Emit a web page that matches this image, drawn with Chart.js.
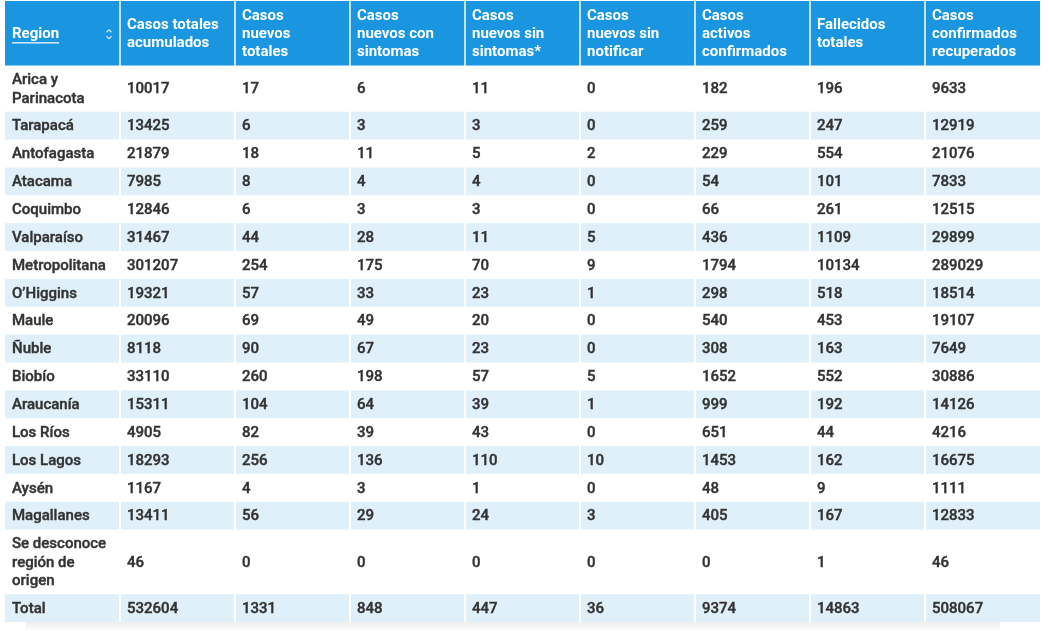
<!DOCTYPE html>
<html>
<head>
<meta charset="utf-8">
<script src="https://cdn.jsdelivr.net/npm/chart.js@4.4.0/dist/chart.umd.min.js"></script>
<style>
  html, body { margin: 0; padding: 0; background: #fff; }
  #wrap { width: 1049px; height: 631px; position: relative; }
</style>
</head>
<body>
<div id="wrap"><canvas id="myChart"></canvas></div>
<script>
// table, one array per column
const headers = ["Region", "Casos totales\nacumulados", "Casos\nnuevos\ntotales", "Casos\nnuevos con\nsintomas", "Casos\nnuevos sin\nsintomas*", "Casos\nnuevos sin\nnotificar", "Casos\nactivos\nconfirmados", "Fallecidos\ntotales", "Casos\nconfirmados\nrecuperados"]
const regions = ["Arica y\nParinacota", "Tarapacá", "Antofagasta", "Atacama", "Coquimbo", "Valparaíso", "Metropolitana", "O’Higgins", "Maule", "Ñuble", "Biobío", "Araucanía", "Los Ríos", "Los Lagos", "Aysén", "Magallanes", "Se desconoce\nregión de\norigen", "Total"]
const casosTotales = [10017, 13425, 21879, 7985, 12846, 31467, 301207, 19321, 20096, 8118, 33110, 15311, 4905, 18293, 1167, 13411, 46, 532604]
const casosNuevos = [17, 6, 18, 8, 6, 44, 254, 57, 69, 90, 260, 104, 82, 256, 4, 56, 0, 1331]
const conSintomas = [6, 3, 11, 4, 3, 28, 175, 33, 49, 67, 198, 64, 39, 136, 3, 29, 0, 848]
const sinSintomas = [11, 3, 5, 4, 3, 11, 70, 23, 20, 23, 57, 39, 43, 110, 1, 24, 0, 447]
const sinNotificar = [0, 0, 2, 0, 0, 5, 9, 1, 0, 0, 5, 1, 0, 10, 0, 3, 0, 36]
const activos = [182, 259, 229, 54, 66, 436, 1794, 298, 540, 308, 1652, 999, 651, 1453, 48, 405, 0, 9374]
const fallecidos = [196, 247, 554, 101, 261, 1109, 10134, 518, 453, 163, 552, 192, 44, 162, 9, 167, 1, 14863]
const recuperados = [9633, 12919, 21076, 7833, 12515, 29899, 289029, 18514, 19107, 7649, 30886, 14126, 4216, 16675, 1111, 12833, 46, 508067]

const columns = [regions, casosTotales, casosNuevos, conSintomas, sinSintomas, sinNotificar, activos, fallecidos, recuperados]

const HEADER_BG = '#1996df'
const STRIPE_BG = '#e0f0fb'
const TEXT = '#333333'
const PAD = 0.52 // vertical cell padding, in text-line units

// row boundaries in line units (y scale), header first
const lineCount = s => String(s).split('\n').length
const headerLines = Math.max(...headers.map(lineCount))
const rowTops = []
let acc = headerLines + PAD
regions.forEach(r => {
    rowTops.push(acc)
    acc += lineCount(r) + PAD
})
const tableBottom = acc
const rowCenter = i => rowTops[i] + (lineCount(regions[i]) + PAD) / 2

const datasets = columns.map((col, c) => ({
    label: headers[c],
    data: col.map((v, i) => ({ x: c, y: rowCenter(i), text: String(v) })),
    pointRadius: 0,
    showLine: false
}))

function drawLines(ctx, text, x, yc, lineH, thicken) {
    const lines = text.split('\n')
    lines.forEach((ln, k) => {
        const yy = yc + (k - (lines.length - 1) / 2) * lineH
        ctx.fillText(ln, x, yy)
        if (thicken) ctx.strokeText(ln, x, yy)
    })
}

const tablePlugin = {
    id: 'table',
    beforeDatasetsDraw(chart) {
        const { ctx, scales: { x, y } } = chart
        const left = x.getPixelForValue(0), right = x.getPixelForValue(columns.length)
        ctx.save()
        // soft shadow under the table
        const yb = y.getPixelForValue(tableBottom)
        const g = ctx.createLinearGradient(0, yb, 0, yb + 9)
        g.addColorStop(0, 'rgba(0,0,0,0.07)')
        g.addColorStop(1, 'rgba(0,0,0,0)')
        ctx.fillStyle = g
        ctx.fillRect(left + 20, yb, right - left - 60, 9)
        // header
        ctx.fillStyle = HEADER_BG
        ctx.fillRect(left, y.getPixelForValue(0), right - left, y.getPixelForValue(headerLines + PAD) - y.getPixelForValue(0))
        // stripes
        ctx.fillStyle = STRIPE_BG
        regions.forEach((r, i) => {
            if (i % 2 === 1) {
                const t = y.getPixelForValue(rowTops[i])
                const b = y.getPixelForValue(rowTops[i] + lineCount(r) + PAD)
                ctx.fillRect(left, t, right - left, b - t)
            }
        })
        // white column separators
        ctx.lineWidth = 2
        for (let c = 1; c < columns.length; c++) {
            const px = Math.round(x.getPixelForValue(c))
            ctx.strokeStyle = 'rgba(225,240,252,0.85)'
            ctx.beginPath()
            ctx.moveTo(px, y.getPixelForValue(0))
            ctx.lineTo(px, y.getPixelForValue(headerLines + PAD))
            ctx.stroke()
            ctx.strokeStyle = '#ffffff'
            ctx.beginPath()
            ctx.moveTo(px, y.getPixelForValue(headerLines + PAD))
            ctx.lineTo(px, yb)
            ctx.stroke()
        }
        ctx.restore()
    },
    afterDatasetsDraw(chart) {
        const { ctx, scales: { x, y } } = chart
        const lineH = y.getPixelForValue(1) - y.getPixelForValue(0)
        const hc = y.getPixelForValue((headerLines + PAD) / 2) + 1
        ctx.save()
        ctx.textBaseline = 'middle'
        ctx.textAlign = 'left'
        // header labels
        ctx.fillStyle = '#ffffff'
        ctx.font = 'bold 15px Roboto'
        headers.forEach((h, c) => {
            const px = x.getPixelForValue(c) + 7
            drawLines(ctx, h, px, hc, lineH, false)
            if (c === 0) {
                const w = ctx.measureText(h).width
                ctx.fillRect(px, hc + 8, w, 1.2)
                // sort arrows
                const ax = x.getPixelForValue(1) - 11
                ctx.strokeStyle = '#cde6f8'
                ctx.lineWidth = 1.2
                ctx.beginPath()
                ctx.moveTo(ax - 2.5, hc - 2); ctx.lineTo(ax, hc - 4.5); ctx.lineTo(ax + 2.5, hc - 2)
                ctx.moveTo(ax - 2.5, hc + 2); ctx.lineTo(ax, hc + 4.5); ctx.lineTo(ax + 2.5, hc + 2)
                ctx.stroke()
            }
        })
        // body cells, placed at each point element
        ctx.fillStyle = TEXT
        ctx.strokeStyle = TEXT
        ctx.lineWidth = 0.4
        ctx.font = '500 15px Roboto'
        chart.data.datasets.forEach((ds, d) => {
            chart.getDatasetMeta(d).data.forEach((el, i) => {
                drawLines(ctx, ds.data[i].text, el.x + 7, el.y + 1, lineH, true)
            })
        })
        ctx.restore()
    }
}

const canvas = document.getElementById('myChart')
new Chart(canvas, {
    type: 'scatter',
    data: { datasets: datasets },
    options: {
        responsive: true,
        maintainAspectRatio: false,
        animation: false,
        events: [],
        layout: { padding: { left: 5, right: 9, top: 1, bottom: 9 } },
        plugins: {
            legend: { display: false },
            tooltip: { enabled: false }
        },
        scales: {
            x: { type: 'linear', min: 0, max: columns.length, display: false },
            y: { type: 'linear', min: 0, max: tableBottom, reverse: true, display: false }
        }
    },
    plugins: [tablePlugin]
})
</script>
</body>
</html>
